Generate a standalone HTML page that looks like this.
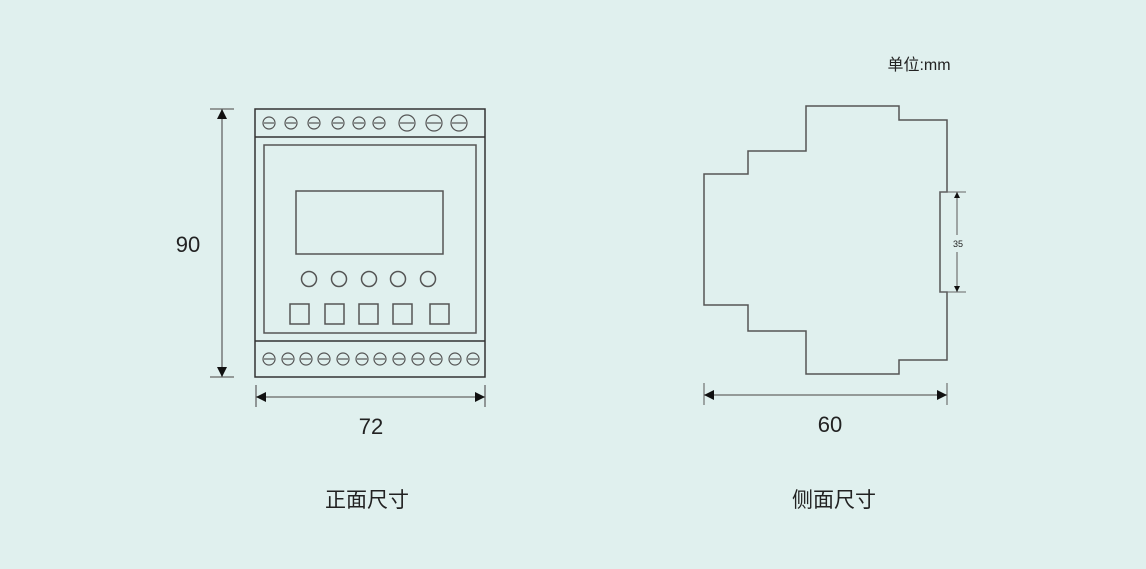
<!DOCTYPE html>
<html><head><meta charset="utf-8"><style>
body{margin:0;background:#e0f0ee;}
svg{display:block}
text{font-family:"Liberation Sans","Noto Sans CJK SC",sans-serif;fill:#222}
</style></head><body>
<svg width="1146" height="569" viewBox="0 0 1146 569">
<rect width="1146" height="569" fill="#e0f0ee"/>
<defs>
<marker id="a" viewBox="0 0 10 10" refX="10" refY="5" markerWidth="10" markerHeight="10" markerUnits="userSpaceOnUse" orient="auto-start-reverse"><path d="M0,0L10,5L0,10z" fill="#111"/></marker>
<marker id="s" viewBox="0 0 10 10" refX="10" refY="5" markerWidth="6" markerHeight="6" markerUnits="userSpaceOnUse" orient="auto-start-reverse"><path d="M0,0L10,5L0,10z" fill="#111"/></marker>
</defs>
<g fill="none" stroke="#555" stroke-width="1.5">
<rect x="255" y="109" width="230" height="268" stroke="#333"/>
<line x1="255" y1="137" x2="485" y2="137" stroke="#333"/>
<line x1="255" y1="341" x2="485" y2="341" stroke="#333"/>
<rect x="264" y="145" width="212" height="188"/>
<rect x="296" y="191" width="147" height="63"/>
<g>
<circle cx="309" cy="279" r="7.5"/><circle cx="339" cy="279" r="7.5"/><circle cx="369" cy="279" r="7.5"/><circle cx="398" cy="279" r="7.5"/><circle cx="428" cy="279" r="7.5"/>
</g>
<rect x="290" y="304" width="19" height="20"/><rect x="325" y="304" width="19" height="20"/><rect x="359" y="304" width="19" height="20"/><rect x="393" y="304" width="19" height="20"/><rect x="430" y="304" width="19" height="20"/>
</g>
<g fill="none" stroke="#555" stroke-width="1.2">
<g id="t">
</g>
</g>
<g fill="none" stroke="#555" stroke-width="1.2">
<circle cx="269" cy="123" r="6"/><path d="M264 123h10"/>
<circle cx="291" cy="123" r="6"/><path d="M286 123h10"/>
<circle cx="314" cy="123" r="6"/><path d="M309 123h10"/>
<circle cx="338" cy="123" r="6"/><path d="M333 123h10"/>
<circle cx="359" cy="123" r="6"/><path d="M354 123h10"/>
<circle cx="379" cy="123" r="6"/><path d="M374 123h10"/>
<circle cx="407" cy="123" r="8"/><path d="M400 123h14"/>
<circle cx="434" cy="123" r="8"/><path d="M427 123h14"/>
<circle cx="459" cy="123" r="8"/><path d="M452 123h14"/>
<circle cx="269" cy="359" r="6"/><path d="M264 359h10"/>
<circle cx="288" cy="359" r="6"/><path d="M283 359h10"/>
<circle cx="306" cy="359" r="6"/><path d="M301 359h10"/>
<circle cx="324" cy="359" r="6"/><path d="M319 359h10"/>
<circle cx="343" cy="359" r="6"/><path d="M338 359h10"/>
<circle cx="362" cy="359" r="6"/><path d="M357 359h10"/>
<circle cx="380" cy="359" r="6"/><path d="M375 359h10"/>
<circle cx="399" cy="359" r="6"/><path d="M394 359h10"/>
<circle cx="418" cy="359" r="6"/><path d="M413 359h10"/>
<circle cx="436" cy="359" r="6"/><path d="M431 359h10"/>
<circle cx="455" cy="359" r="6"/><path d="M450 359h10"/>
<circle cx="473" cy="359" r="6"/><path d="M468 359h10"/>
</g>
<!-- dims front -->
<g stroke="#666" stroke-width="1.3" fill="none">
<path d="M210 109h24M210 377h24M256 385v22M485 385v22"/>
<line x1="222" y1="109" x2="222" y2="377" marker-start="url(#a)" marker-end="url(#a)"/>
<line x1="256" y1="397" x2="485" y2="397" marker-start="url(#a)" marker-end="url(#a)"/>
</g>
<text x="188" y="252" font-size="22" text-anchor="middle">90</text>
<text x="371" y="434" font-size="22" text-anchor="middle">72</text>
<text x="367" y="507" font-size="21" text-anchor="middle">正面尺寸</text>
<!-- side -->
<path d="M704 174H748V151H806V106H899V120H947V192H940V292H947V360H899V374H806V331H748V305H704Z" fill="none" stroke="#555" stroke-width="1.5"/>
<g stroke="#666" stroke-width="1.1" fill="none">
<path d="M940 192h26M940 292h26M704 383v22M947 383v22"/>
<line x1="957" y1="192" x2="957" y2="235" marker-start="url(#s)"/>
<line x1="957" y1="252" x2="957" y2="292" marker-end="url(#s)"/>
<line x1="704" y1="395" x2="947" y2="395" stroke-width="1.3" marker-start="url(#a)" marker-end="url(#a)"/>
</g>
<text x="958" y="247" font-size="9" text-anchor="middle">35</text>
<text x="830" y="432" font-size="22" text-anchor="middle">60</text>
<text x="834" y="507" font-size="21" text-anchor="middle">侧面尺寸</text>
<text x="919" y="70" font-size="16" text-anchor="middle">单位:mm</text>
</svg>
</body></html>
